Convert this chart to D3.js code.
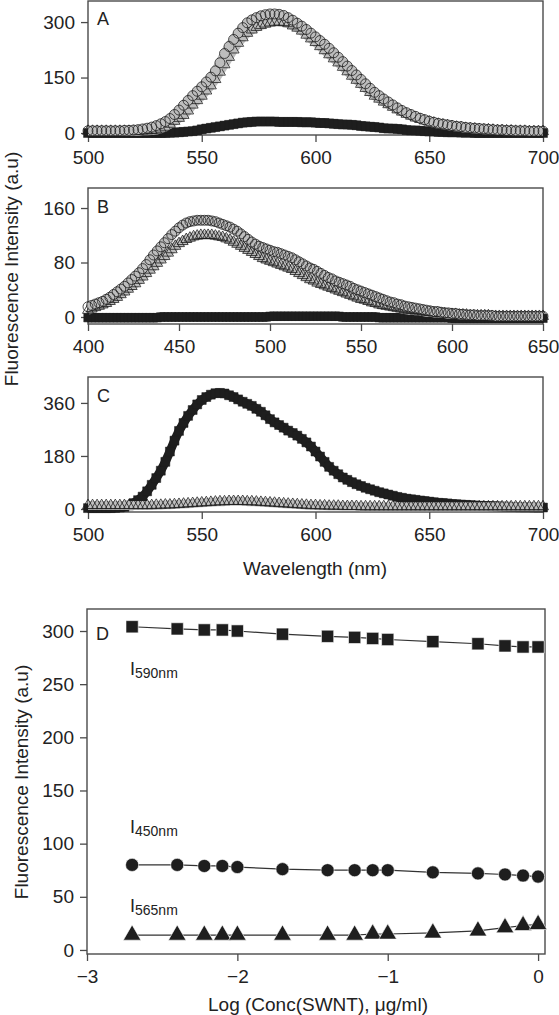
<!DOCTYPE html>
<html><head><meta charset="utf-8">
<script src="https://cdn.jsdelivr.net/npm/d3@7"></script>
<style>
html,body{margin:0;padding:0;background:#fff;}
svg{display:block;}
text{font-family:"Liberation Sans",Arial,Helvetica,sans-serif;fill:#222;}
</style></head><body>
<svg id="chart" width="559" height="1015"></svg>
<script>
// ---------- Panel A (500–700 nm, every 2 nm) ----------
const wavelengthA = d3.range(500, 701, 2);
const aCircles = [6,6,6,6,6,6,6,6,7,7, 8,9,11,13,16,20,25,31,39,50, 62,75,88,101,113,125,138,151,168,190,
  215,234,253,270,285,298,306,312,317,320, 322,322,321,318,312,305,297,289,280,270, 260,250,240,229,217,205,193,181,169,157,
  145,133,121,110,101,92,84,76,68,61, 55,50,45,40,36,32,29,26,24,22, 20,18,17,15,14,13,12,11,10,9, 8,8,7,7,6,6,6,5,5,5, 5];
const aTriangles = [5,5,5,5,5,5,5,5,5,5, 5,5,6,6,7,8,11,16,24,32, 40,48,60,76,88,100,114,128,145,165,
  185,205,225,243,258,270,279,286,291,295, 298,300,300,299,296,290,284,276,265,255, 245,234,223,212,201,190,178,166,154,143,
  132,121,110,100,92,84,77,70,63,57, 51,46,41,37,33,30,27,24,22,20, 18,16,15,13,12,11,10,9,9,8, 7,7,6,6,5,5,5,4,4,4, 4];
const aSquares = [0,0,0,0,0,0,0,0,0,0, 0,0,0,0,0,0,0,0,1,1, 2,3,4,5,7,10,12,14,16,18,
  20,22,24,26,28,29,30,31,31,31, 31,31,30,30,30,30,30,29,29,29, 28,27,27,26,25,24,23,23,22,21,
  19,18,17,16,15,13,12,12,11,10, 8,7,7,6,5,4,4,3,3,2, 2,2,1,1,1,0,0,0,0,0, 0,0,0,0,0,0,0,0,0,0, 0];

// ---------- Panel B (400–650 nm, every 2 nm) ----------
const wavelengthB = d3.range(400, 651, 2);
const bCircles = [15,17,19,21,23,26,29,33,37,41, 45,50,55,60,65,71,77,84,91,97, 103,109,115,121,126,131,135,138,140,141,
  142,142,142,142,141,140,138,136,134,132, 129,126,122,118,114,110,107,104,102,100, 98,96,95,93,91,89,87,84,81,78,
  75,72,70,67,64,61,58,56,53,51, 49,47,45,42,40,38,36,34,32,30, 28,26,24,22,21,19,18,16,15,14,
  13,12,11,10,9,8,8,7,6,6, 5,5,4,4,3,3,3,2,2,2, 2,2,1,1,1,1,1,1,1,1, 1,1,1,1,1, 1];
const bTriangles = [10,12,14,16,18,20,23,26,29,33, 37,41,45,49,54,59,64,69,74,79, 84,89,94,99,104,108,111,114,116,118,
  119,120,120,120,120,119,118,117,115,113, 110,107,104,101,98,95,92,89,86,84, 82,80,78,76,74,72,70,67,64,61,
  58,55,53,50,48,46,44,42,40,38, 36,34,32,30,28,26,25,23,21,20, 18,17,16,15,14,13,12,11,10,10,
  9,9,8,7,7,6,6,5,5,4, 4,4,3,3,3,2,2,2,2,2, 2,1,1,1,1,1,1,1,1,1, 1,1,1,1,1, 1];
const bSquares = [-1,-1,-1,-1,-1,-1,-1,-1,-1,-1, -1,-1,-1,-1,-1,-1,-1,-1,-1,-1, 0,0,0,0,0,0,0,0,0,0,
  0,0,0,0,0,0,0,0,0,0, 0,0,0,0,0,0,0,0,0,0, 1,1,1,1,1,1,1,1,1,1,
  1,1,1,1,1,1,1,1,1,1, 0,0,0,0,0,0,0,0,0,0, -1,-1,-1,-1,-1,-1,-1,-1,-1,-1,
  -1,-1,-1,-1,-1,-1,-1,-1,-1,-1, -2,-2,-2,-2,-2,-2,-2,-2,-2,-2, -2,-2,-2,-2,-2,-2,-2,-2,-2,-2, -2,-2,-2,-2,-2, -2];

// ---------- Panel C (500–700 nm, every 2 nm) ----------
const wavelengthC = d3.range(500, 701, 2);
const cSquares = [3,3,3,3,3,3,4,5,7,12, 20,30,42,60,82,105,130,160,195,232, 265,292,316,336,355,370,380,388,393,394,
  392,386,380,372,364,357,350,340,330,318, 305,294,285,276,266,258,249,238,226,212, 195,178,160,143,130,118,107,99,91,84,
  78,72,67,62,57,53,49,45,41,38, 35,33,31,29,27,25,23,21,20,19, 17,16,15,14,13,12,11,10,10,9, 9,8,8,7,7,6,6,6,5,5, 5];
const cTriangles = [12,12,12,12,12,12,12,12,12,12, 12,12,12,12,12,13,13,14,14,15, 16,17,18,19,20,21,22,23,24,25,
  25,26,26,26,26,25,25,24,23,22, 21,20,19,18,17,16,15,14,13,12, 12,11,11,10,10,10,9,9,9,9,
  8,8,8,8,8,8,8,8,8,8, 8,8,8,8,8,8,8,8,8,8, 8,8,8,8,8,8,8,8,8,8, 8,8,8,8,8,8,8,8,8,8, 8];

// ---------- Panel D ----------
const logConc = [-2.70,-2.40,-2.22,-2.10,-2.00,-1.70,-1.40,-1.22,-1.10,-1.00,-0.70,-0.40,-0.22,-0.10,0];
const i590 = [304,302,301,301,300,297,295,294,293,292,290,288,286,285,285];
const i450 = [80,80,79,79,78,76,75,75,75,75,73,72,71,70,69];
const i565 = [14,14,14,14,14,14,14,14,15,15,16,18,21,23,24];

const svg = d3.select("#chart");
const AX = "#4a4a4a", INK = "#1e1e1e";
const FS = 19;

function drawAxes(g, x, y, box, xMaj, xMin, yMaj, yMin) {
  const bx = g.append("g").attr("transform", `translate(0,${box.bottom})`);
  bx.call(d3.axisBottom(x).tickValues(xMin).tickSize(5).tickFormat(""));
  bx.call(d3.axisBottom(x).tickValues(xMaj).tickSize(7).tickPadding(9).tickSizeOuter(0).tickFormat(d3.format("d")));
  const ly = g.append("g").attr("transform", `translate(${box.left},0)`);
  ly.call(d3.axisLeft(y).tickValues(yMin).tickSize(5).tickFormat(""));
  ly.call(d3.axisLeft(y).tickValues(yMaj).tickSize(7).tickPadding(6).tickSizeOuter(0).tickFormat(d3.format("d")));
  g.selectAll(".domain").remove();
  g.selectAll(".tick line").attr("stroke", AX).attr("stroke-width", 1.3);
  g.selectAll(".tick text").attr("font-size", FS).attr("fill", "#222")
    .attr("font-family", '"Liberation Sans",Arial,Helvetica,sans-serif');
  g.append("rect").attr("x", box.left).attr("y", box.top)
    .attr("width", box.right - box.left).attr("height", box.bottom - box.top)
    .attr("fill", "none").attr("stroke", AX).attr("stroke-width", 1.4);
}

function drawSeries(g, x, y, xs, vals, type, size, filled) {
  const sym = d3.symbol().type(type).size(size);
  const s = g.append("g");
  const path = d3.line().x((d, i) => x(xs[i])).y(d => y(d))(vals);
  s.append("path").attr("d", path).attr("fill", "none")
    .attr("stroke", filled ? INK : "#bdbdbd").attr("stroke-width", filled ? 9 : 9)
    .attr("stroke-linejoin", "round");
  s.selectAll("path.m").data(vals).join("path").attr("class", "m")
    .attr("d", sym())
    .attr("transform", (d, i) => `translate(${x(xs[i])},${y(d)})`)
    .attr("fill", filled ? INK : "none")
    .attr("stroke", INK)
    .attr("stroke-width", filled ? 0.5 : 0.8);
}

function spectrumPanel(p) {
  const g = svg.append("g");
  const x = d3.scaleLinear().domain(p.xDomain).range([p.box.left, p.box.right]);
  const y = d3.scaleLinear().domain(p.yDomain).range([p.box.bottom, p.box.top]);
  drawAxes(g, x, y, p.box, p.xMaj, p.xMin, p.yMaj, p.yMin);
  const plot = g.append("g");
  p.series.forEach(s => drawSeries(plot, x, y, p.xs, s.vals, s.type, s.size, s.filled));
  g.append("text").attr("x", p.box.left + 9).attr("y", p.letterY).attr("font-size", 18).text(p.letter);
}

const boxA = {left: 88, right: 543, top: 1, bottom: 135};
const boxB = {left: 88, right: 543, top: 188, bottom: 324};
const boxC = {left: 88, right: 543, top: 377, bottom: 512};

spectrumPanel({box: boxA, xDomain: [500, 700], yDomain: [-5.4, 357], xs: wavelengthA,
  xMaj: [500, 550, 600, 650, 700], xMin: [525, 575, 625, 675], yMaj: [0, 150, 300], yMin: [75, 225],
  letter: "A", letterY: 25,
  series: [
    {vals: aSquares, type: d3.symbolSquare, size: 80, filled: true},
    {vals: aTriangles, type: d3.symbolTriangle, size: 52, filled: false},
    {vals: aCircles, type: d3.symbolCircle, size: 78, filled: false}
  ]});

spectrumPanel({box: boxB, xDomain: [400, 650], yDomain: [-10.3, 189.4], xs: wavelengthB,
  xMaj: [400, 450, 500, 550, 600, 650], xMin: [425, 475, 525, 575, 625], yMaj: [0, 80, 160], yMin: [40, 120],
  letter: "B", letterY: 213,
  series: [
    {vals: bSquares, type: d3.symbolSquare, size: 72, filled: true},
    {vals: bTriangles, type: d3.symbolTriangle, size: 52, filled: false},
    {vals: bCircles, type: d3.symbolCircle, size: 78, filled: false}
  ]});

spectrumPanel({box: boxC, xDomain: [500, 700], yDomain: [-10.2, 448], xs: wavelengthC,
  xMaj: [500, 550, 600, 650, 700], xMin: [525, 575, 625, 675], yMaj: [0, 180, 360], yMin: [90, 270],
  letter: "C", letterY: 402,
  series: [
    {vals: cSquares, type: d3.symbolSquare, size: 80, filled: true},
    {vals: cTriangles, type: d3.symbolTriangle, size: 52, filled: false}
  ]});

svg.append("text").attr("transform", "translate(18,269) rotate(-90)")
  .attr("text-anchor", "middle").attr("font-size", FS).text("Fluorescence Intensity (a.u)");
svg.append("text").attr("x", 315).attr("y", 575)
  .attr("text-anchor", "middle").attr("font-size", FS).text("Wavelength (nm)");

// ---------- Panel D ----------
(function () {
  const box = {left: 87, right: 545, top: 609, bottom: 954};
  const g = svg.append("g");
  const x = d3.scaleLinear().domain([-3, 0.046]).range([box.left, box.right]);
  const y = d3.scaleLinear().domain([-3.8, 320.7]).range([box.bottom, box.top]);
  drawAxes(g, x, y, box, [-3, -2, -1, 0], [-2.5, -1.5, -0.5],
    [0, 50, 100, 150, 200, 250, 300], [25, 75, 125, 175, 225, 275]);
  const line = d3.line().x((d, i) => x(logConc[i])).y(d => y(d));
  const sets = [
    {vals: i590, type: d3.symbolSquare, size: 150},
    {vals: i450, type: d3.symbolCircle, size: 135},
    {vals: i565, type: d3.symbolTriangle, size: 135}
  ];
  sets.forEach(s => {
    g.append("path").attr("d", line(s.vals)).attr("fill", "none")
      .attr("stroke", "#333").attr("stroke-width", 1.2);
    g.append("g").selectAll("path").data(s.vals).join("path")
      .attr("d", d3.symbol().type(s.type).size(s.size)())
      .attr("transform", (d, i) => `translate(${x(logConc[i])},${y(d)})`)
      .attr("fill", INK).attr("stroke", "#fff").attr("stroke-width", 0.6);
  });
  g.append("text").attr("x", 96).attr("y", 640).attr("font-size", 18).text("D");
  const labels = [
    {sub: "590nm", y: 675},
    {sub: "450nm", y: 833},
    {sub: "565nm", y: 912}
  ];
  labels.forEach(l => {
    const t = g.append("text").attr("x", 130).attr("y", l.y).attr("font-size", 18);
    t.append("tspan").text("I");
    t.append("tspan").attr("font-size", 14).attr("dy", 3).text(l.sub);
  });
  svg.append("text").attr("transform", "translate(28,782) rotate(-90)")
    .attr("text-anchor", "middle").attr("font-size", FS).text("Fluorescence Intensity (a.u)");
  svg.append("text").attr("x", 318).attr("y", 1011)
    .attr("text-anchor", "middle").attr("font-size", FS).text("Log (Conc(SWNT), μg/ml)");
})();
</script>
</body></html>
